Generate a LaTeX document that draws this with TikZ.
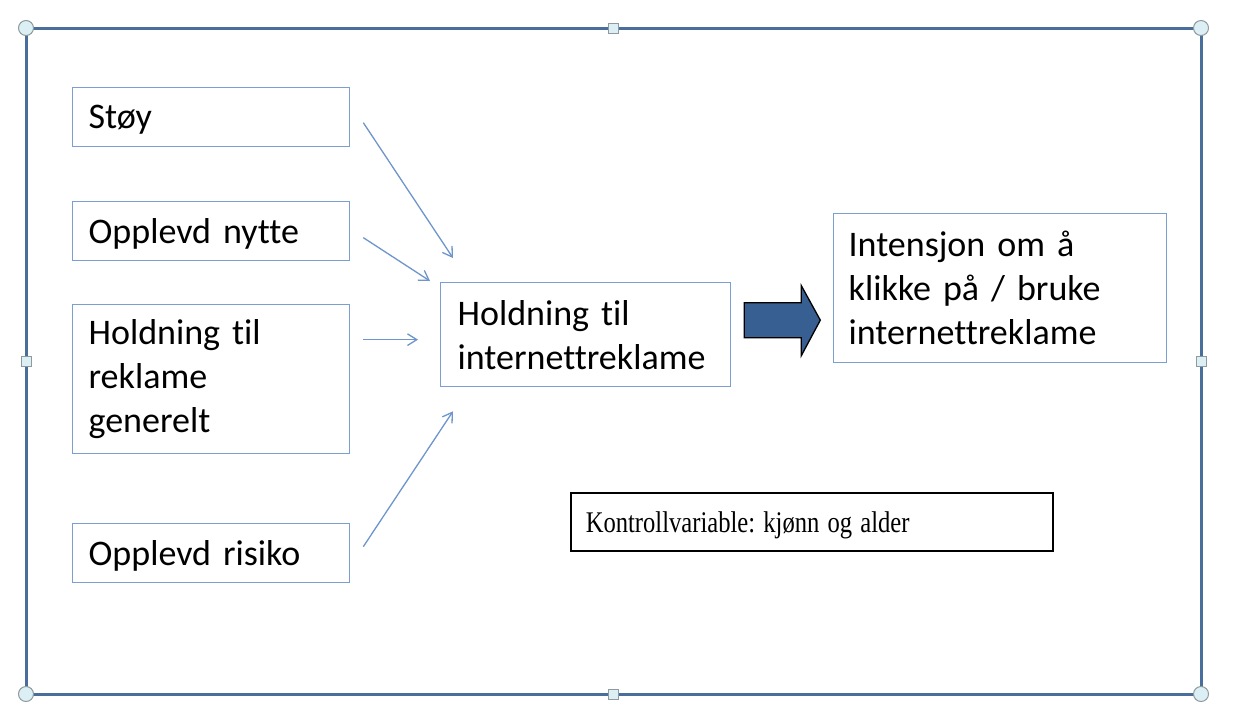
\documentclass[tikz,border=0pt]{standalone}
\usepackage{fontspec}
\usepackage{graphicx}
\setmainfont[Ligatures=NoCommon]{Carlito}
\newfontfamily\tnrfont{Liberation Serif}
\usetikzlibrary{arrows.meta}
\definecolor{boxblue}{HTML}{7B9FD0}
\definecolor{arrblue}{HTML}{6E95CC}
\definecolor{framecol}{HTML}{4A6E9C}
\definecolor{bigarrow}{HTML}{375F91}
\definecolor{handlefill}{HTML}{DCEFF4}
\definecolor{handleline}{HTML}{8E9A9E}
\begin{document}
\frenchspacing
\begin{tikzpicture}[x=1pt,y=-1pt,
  vbox/.style={draw=boxblue, line width=1.3pt, align=left, inner xsep=16pt, inner ysep=0pt,
    font=\fontsize{36}{44}\selectfont, text=black, anchor=north west},
  oneline/.style={text depth=0pt},
  arr/.style={draw=arrblue, line width=1.3pt, -{Straight Barb[angle=64:11pt]}},
  cornerhandle/.style={draw=handleline, fill=handlefill, line width=1pt},
]
\useasboundingbox (0,0) rectangle (1236,713);
\fill[white] (0,0) rectangle (1236,713);

% frame
\draw[framecol, line width=3pt] (26,28) rectangle (1201,694);
\foreach \p in {(26,28),(1201,28),(26,694),(1201,694)}
  \draw[cornerhandle] \p circle[radius=7.5pt];
\foreach \p in {(613,28),(613,694),(26,361),(1201,361)}
  \draw[cornerhandle] \p ++(-5,-5) rectangle ++(10,10);

% boxes
\node[vbox, oneline, text width=245pt, minimum height=59pt] (stoy) at (72,87) {Støy};
\node[vbox, oneline, text width=245pt, minimum height=59pt] (nytte) at (72,201) {Opplevd nytte};
\node[vbox, text width=245pt, minimum height=149pt] (gen) at (72,304) {Holdning til\\reklame\\generelt};
\node[vbox, oneline, text width=245pt, minimum height=59pt] (risiko) at (72,523) {Opplevd risiko};
\node[vbox, inner xsep=17pt, text width=256pt, minimum height=104pt] (hold) at (440,282) {Holdning til\\internettreklame};
\node[vbox, inner xsep=15pt, text width=303pt, minimum height=149pt] (int) at (833,213) {Intensjon om å\\klikke på / bruke\\internettreklame};
\node[draw=black, line width=1.5pt, anchor=north west, align=left, inner xsep=15pt, inner ysep=0pt,
  text width=452pt, minimum height=58pt, text depth=0pt, font=\tnrfont\fontsize{30}{34}\selectfont] (ctrl) at (570,492)
  {\scalebox{0.82}[1]{Kontrollvariable: kjønn og alder}};

% arrows
\draw[arr] ([shift={(13,5.5)}]stoy.east) -- ([shift={(13,-24)}]hold.north west);
\draw[arr] ([shift={(13,6.5)}]nytte.east) -- ([shift={(-10,-1)}]hold.north west);
\draw[arr] ([shift={(13,-39.5)}]gen.east) -- ([shift={(-22,5)}]hold.west);
\draw[arr] ([shift={(13,-6.5)}]risiko.east) -- ([shift={(13,24)}]hold.south west);

% big arrow
\begin{scope}[shift={(hold.east)}]
\draw[fill=bigarrow, draw=black, line width=1.3pt, line join=miter]
  (13,-32) -- (70,-32) -- (70,-49) -- (89,-14.5) -- (70,21) -- (70,3) -- (13,3) -- cycle;
\end{scope}
\end{tikzpicture}
\end{document}
